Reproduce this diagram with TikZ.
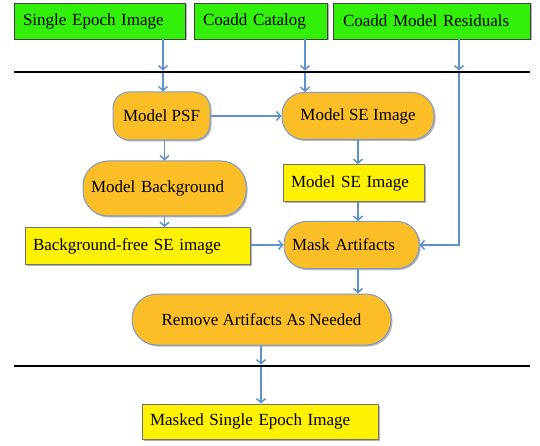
\documentclass[tikz,border=0pt]{standalone}
\usepackage{fontspec}
\setmainfont{Liberation Serif}
\usetikzlibrary{arrows.meta,shadows}
\definecolor{boxgreen}{RGB}{50,240,10}
\definecolor{boxorange}{RGB}{252,190,38}
\definecolor{boxedge}{RGB}{125,155,200}
\definecolor{flowblue}{RGB}{95,145,205}

\begin{document}
\begin{tikzpicture}[x=1pt,y=-1pt,
  font=\fontsize{17}{20}\selectfont,
  boxshadow/.style={drop shadow={shadow xshift=1.5pt,shadow yshift=-1.5pt,opacity=0.3,fill=black}},
  datain/.style={draw=black!75,fill=boxgreen,line width=0.8pt,inner xsep=9pt,align=left,minimum height=36pt,boxshadow},
  product/.style={draw=black!55,fill=yellow,line width=0.8pt,inner xsep=8pt,align=left,minimum height=37pt,boxshadow},
  process/.style={draw=boxedge,fill=boxorange,line width=1pt,rounded corners=22pt,boxshadow},
  flow/.style={draw=flowblue,line width=1.5pt,-{Straight Barb[length=4pt,width=9pt]}},
  barline/.style={line width=2.8pt}]
\useasboundingbox (0,0) rectangle (540,446);

% inputs
\node[datain,text width=153pt] (single) at (99.5,21) {Single Epoch Image};
\node[datain,text width=115pt] (catalog) at (260.5,21) {Coadd Catalog};
\node[datain,text width=177pt,inner xsep=10pt] (resid) at (431.5,21) {Coadd Model Residuals};

% processing steps
\node[process,rounded corners=16pt,minimum width=97pt,minimum height=48pt] (psf) at (161.5,116) {Model PSF};
\node[process,minimum width=152pt,minimum height=47pt] (sesim) at (358,116) {Model SE Image};
\node[process,rounded corners=25pt,align=left,text width=147pt,inner xsep=8pt,minimum height=55pt] (bg) at (164.5,188.5) {Model Background};
\node[product,text width=125pt] (semod) at (353.5,183) {Model SE Image};
\node[product,text width=209pt] (bgfree) at (137.5,246) {Background-free SE image};
\node[process,align=left,text width=119pt,inner xsep=8pt,minimum height=47pt] (mask) at (351.5,245) {Mask Artifacts};
\node[process,rounded corners=25pt,minimum width=259pt,minimum height=51pt] (remove) at (261.5,319.5) {Remove Artifacts As Needed};
\node[product,text width=220pt,minimum height=35pt] (masked) at (260,421.5) {Masked Single Epoch Image};

% crossing points on the bars
\coordinate (in1) at (163,72);
\coordinate (in2) at (305,72);
\coordinate (in3) at (459,72);
\coordinate (out1) at (261,366);

\draw[flow,shorten >=1.4pt] (single.south -| in1) -- (in1);
\draw[flow,shorten >=1.4pt] (catalog.south -| in2) -- (in2);
\draw[flow,shorten >=1.4pt] (resid.south -| in3) -- (in3);
\draw[flow] (in1) -- (in1 |- psf.north);
\draw[flow] (in2) -- (in2 |- sesim.north);
\draw[flow] (in3) |- (mask.east);

\draw[flow] (psf.east) -- (sesim.west);
\draw[flow] (bg.north |- psf.south) -- (bg.north);
\draw[flow] (bg.south) -- (bg.south |- bgfree.north);
\draw[flow] (sesim.south) -- (sesim.south |- semod.north);
\draw[flow] (semod.south -| sesim.south) -- (mask.north -| sesim.south);
\draw[flow] (bgfree.east |- mask.west) -- (mask.west);
\draw[flow] (mask.south -| sesim.south) -- (remove.north -| sesim.south);
\draw[flow,shorten >=1.4pt] (remove.south -| out1) -- (out1);
\draw[flow] (out1) -- (out1 |- masked.north);

% bars
\draw[barline] (14,72) -- (530,72);
\draw[barline] (14,366) -- (530,366);
\end{tikzpicture}
\end{document}
